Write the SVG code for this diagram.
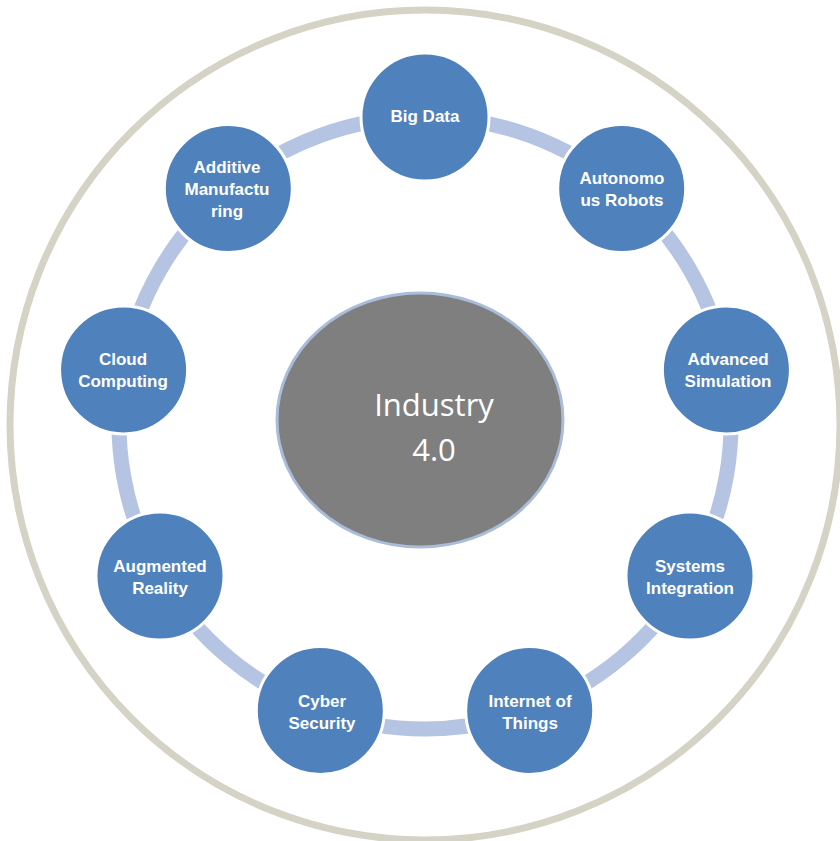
<svg xmlns="http://www.w3.org/2000/svg" width="840" height="841" viewBox="0 0 840 841">
<style>
.n{fill:#4f81bd;stroke:#ffffff;stroke-width:3}
.t{fill:#ffffff;font-family:"Liberation Sans",Arial,sans-serif;font-weight:bold;font-size:17px;text-anchor:middle}
.c{fill:none;stroke:#b4c4e2;stroke-width:15}
.ct{fill:#ffffff;font-family:"Open Sans","Liberation Sans",sans-serif;font-size:31px;text-anchor:middle}
</style>
<rect width="840" height="841" fill="#ffffff"/>
<circle cx="425" cy="425" r="415" fill="none" stroke="#d5d3c5" stroke-width="7"/>
<g id="connectors">
<path class="c" d="M425,117 A306,306 0 0 1 621.7,188.6"/>
<path class="c" d="M621.7,188.6 A306,306 0 0 1 726.4,369.9"/>
<path class="c" d="M726.4,369.9 A306,306 0 0 1 690,576"/>
<path class="c" d="M690,576 A306,306 0 0 1 529.7,710.5"/>
<path class="c" d="M529.7,710.5 A306,306 0 0 1 320.3,710.5"/>
<path class="c" d="M320.3,710.5 A306,306 0 0 1 160,576"/>
<path class="c" d="M160,576 A306,306 0 0 1 123.6,369.9"/>
<path class="c" d="M123.6,369.9 A306,306 0 0 1 228.3,188.6"/>
<path class="c" d="M228.3,188.6 A306,306 0 0 1 425,117"/>
</g>
<g id="center">
<ellipse cx="420" cy="420" rx="143" ry="127" fill="#7f7f7f" stroke="#a9bcd9" stroke-width="3"/>
<text class="ct" x="434" y="416">Industry</text>
<text class="ct" x="434" y="461">4.0</text>
</g>
<g id="big-data"><circle class="n" cx="425" cy="117" r="64"/><text class="t" x="425" y="122">Big Data</text></g>
<g id="autonomous-robots"><circle class="n" cx="621.7" cy="188.6" r="64"/><text class="t" x="622" y="184">Autonomo</text><text class="t" x="622" y="206">us Robots</text></g>
<g id="advanced-simulation"><circle class="n" cx="726.4" cy="369.9" r="64"/><text class="t" x="728" y="365">Advanced</text><text class="t" x="728" y="387">Simulation</text></g>
<g id="systems-integration"><circle class="n" cx="690" cy="576" r="64"/><text class="t" x="690" y="572">Systems</text><text class="t" x="690" y="594">Integration</text></g>
<g id="internet-of-things"><circle class="n" cx="529.7" cy="710.5" r="64"/><text class="t" x="530" y="707">Internet of</text><text class="t" x="530" y="729">Things</text></g>
<g id="cyber-security"><circle class="n" cx="320.3" cy="710.5" r="64"/><text class="t" x="322" y="707">Cyber</text><text class="t" x="322" y="729">Security</text></g>
<g id="augmented-reality"><circle class="n" cx="160" cy="576" r="64"/><text class="t" x="160" y="572">Augmented</text><text class="t" x="160" y="594">Reality</text></g>
<g id="cloud-computing"><circle class="n" cx="123.6" cy="369.9" r="64"/><text class="t" x="123" y="365">Cloud</text><text class="t" x="123" y="387">Computing</text></g>
<g id="additive-manufacturing"><circle class="n" cx="228.3" cy="188.6" r="64"/><text class="t" x="227" y="173">Additive</text><text class="t" x="227" y="195">Manufactu</text><text class="t" x="227" y="217">ring</text></g>
</svg>
